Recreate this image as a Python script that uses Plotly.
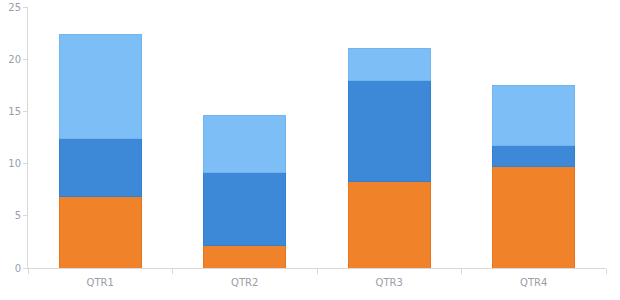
import plotly.graph_objects as go

categories = ["QTR1", "QTR2", "QTR3", "QTR4"]
series_a = [6.9, 2.2, 8.25, 9.7]     # orange (bottom)
series_b = [5.55, 7.0, 9.75, 2.0]    # dark blue (middle)
series_c = [9.95, 5.45, 3.05, 5.75]  # light blue (top)
y_ticks = [0, 5, 10, 15, 20, 25]

colors = ["#F0822A", "#3D89D8", "#7DBEF6"]
edges = ["#E5761E", "#3380D0", "#70B5F0"]

fig = go.Figure()
for vals, c, e in zip([series_a, series_b, series_c], colors, edges):
    fig.add_trace(go.Bar(x=categories, y=vals, marker=dict(color=c, line=dict(color=e, width=1)),
                         showlegend=False))

fig.update_layout(
    barmode="stack",
    bargap=0.43,
    width=620, height=300,
    margin=dict(l=28, r=14, t=7, b=32, autoexpand=False),
    paper_bgcolor="white", plot_bgcolor="white",
    font=dict(family="DejaVu Sans, sans-serif", size=10, color="#9a9ea6"),
    xaxis=dict(tickson="boundaries", ticks="outside", ticklen=5, tickcolor="#d8d8d8",
               showline=True, linecolor="#d8d8d8", linewidth=1, showgrid=False, automargin=False,
               ticklabelstandoff=5),
    yaxis=dict(range=[0, 25.02], tickmode="array", tickvals=y_ticks, ticks="outside", ticklen=4,
               tickcolor="#d8d8d8", showline=True, linecolor="#d8d8d8", linewidth=1,
               showgrid=False, zeroline=False, automargin=False),
)
fig.write_html("out.html")
